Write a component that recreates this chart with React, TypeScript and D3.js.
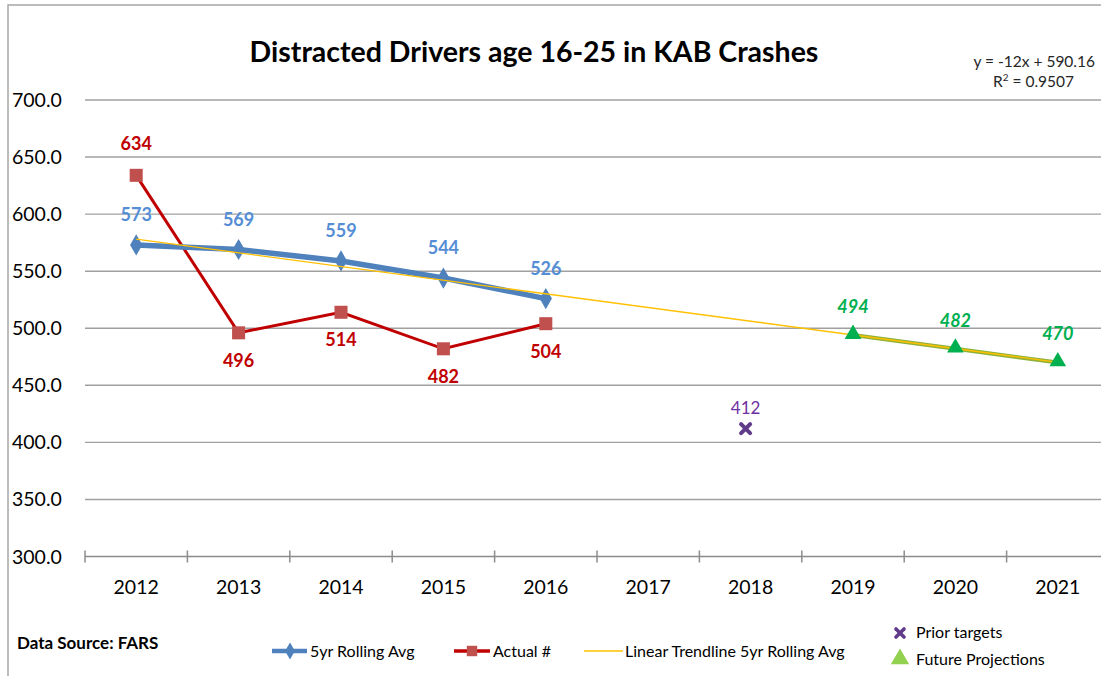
import React from "react";
import * as d3 from "d3";

const years = ["2012", "2013", "2014", "2015", "2016", "2017", "2018", "2019", "2020", "2021"];
const rollingYears = ["2012", "2013", "2014", "2015", "2016"];
const rollingAvg = [573, 569, 559, 544, 526];
const actualYears = ["2012", "2013", "2014", "2015", "2016"];
const actual = [634, 496, 514, 482, 504];
const actualLabelBelow = [false, true, true, true, true];
const priorYears = ["2018"];
const priorTargets = [412];
const futureYears = ["2019", "2020", "2021"];
const futureProj = [494, 482, 470];
const yTicks = [300, 350, 400, 450, 500, 550, 600, 650, 700];
const trendSlope = -12;
const trendIntercept = 590.16;
const trendR2 = 0.9507;

const W = 1101;
const H = 676;
const FONT = "Lato, 'Open Sans', sans-serif";

function ThickX({ cx, cy, r, color }: { cx: number; cy: number; r: number; color: string }) {
  return (
    <g stroke={color} strokeWidth={r * 0.9} strokeLinecap="round">
      <line x1={cx - r} y1={cy - r} x2={cx + r} y2={cy + r} />
      <line x1={cx - r} y1={cy + r} x2={cx + r} y2={cy - r} />
    </g>
  );
}

export default function App() {
  const x = d3.scaleBand<string>().domain(years).range([85, 1109]).padding(0);
  const cx = (yr: string) => (x(yr) as number) + x.bandwidth() / 2;
  const y = d3.scaleLinear().domain([300, 700]).range([556.5, 100]);

  const line = d3
    .line<[number, number]>()
    .x((d) => d[0])
    .y((d) => d[1]);

  const rollPts: [number, number][] = rollingYears.map((yr, i) => [cx(yr), y(rollingAvg[i])]);
  const actPts: [number, number][] = actualYears.map((yr, i) => [cx(yr), y(actual[i])]);
  const futPts: [number, number][] = futureYears.map((yr, i) => [cx(yr), y(futureProj[i])]);
  const trendPts: [number, number][] = [years[0], years[years.length - 1]].map((yr) => {
    const idx = years.indexOf(yr) + 1;
    return [cx(yr), y(trendSlope * idx + trendIntercept)];
  });

  const diamond = d3.symbol().type(d3.symbolDiamond).size(130)() as string;
  const square = d3.symbol().type(d3.symbolSquare).size(170)() as string;
  const triangle = d3.symbol().type(d3.symbolTriangle).size(120)() as string;

  const axisY = y(300);

  return (
    <svg width={W} height={H} style={{ position: "absolute", left: 0, top: 0, background: "#fff" }} fontFamily={FONT}>
      <rect x={8} y={5} width={W + 20} height={H + 20} fill="#fff" stroke="#a6a6a6" strokeWidth={1.5} />

      <text x={534} y={62} textAnchor="middle" fontSize={28.5} fontWeight="bold" fill="#000">
        Distracted Drivers age 16-25 in KAB Crashes
      </text>

      <text x={1095} y={67} textAnchor="end" fontSize={15.5} fill="#262626">
        y = -12x + 590.16
      </text>
      <text x={1074} y={87} textAnchor="end" fontSize={15.5} fill="#262626">
        R<tspan dy={-6} fontSize={10}>2</tspan>
        <tspan dy={6}> = {trendR2.toFixed(4)}</tspan>
      </text>

      {/* gridlines */}
      {yTicks.map((t) => (
        <g key={t}>
          {t !== 300 && (
            <line x1={85} x2={W} y1={y(t)} y2={y(t)} stroke="#a0a0a0" strokeWidth={1.4} />
          )}
          <text x={12} y={y(t) + 7} fontSize={19.5} fill="#000">
            {t.toFixed(1)}
          </text>
        </g>
      ))}

      {/* x axis */}
      <line x1={85} x2={W} y1={axisY} y2={axisY} stroke="#8c8c8c" strokeWidth={1.5} />
      {years.map((yr) => (
        <g key={yr}>
          <line x1={x(yr) as number} x2={x(yr) as number} y1={axisY - 6} y2={axisY + 6} stroke="#8c8c8c" strokeWidth={1.5} />
          <text x={cx(yr)} y={axisY + 37} textAnchor="middle" fontSize={19.5} fill="#000">
            {yr}
          </text>
        </g>
      ))}

      {/* future projections line */}
      <path d={line(futPts) as string} fill="none" stroke="#8fb13a" strokeWidth={4} />

      {/* actual */}
      <path d={line(actPts) as string} fill="none" stroke="#c00000" strokeWidth={3} />
      {actPts.map((p, i) => (
        <path key={i} d={square} transform={`translate(${p[0]},${p[1]})`} fill="#c0504d" />
      ))}

      {/* rolling avg */}
      <path d={line(rollPts) as string} fill="none" stroke="#4f81bd" strokeWidth={5.5} />
      {rollPts.map((p, i) => (
        <path key={i} d={diamond} transform={`translate(${p[0]},${p[1]})`} fill="#4f81bd" />
      ))}

      {/* trendline */}
      <path d={line(trendPts) as string} fill="none" stroke="#ffc000" strokeWidth={1.3} />

      {/* future triangles */}
      {futPts.map((p, i) => (
        <path key={i} d={triangle} transform={`translate(${p[0]},${p[1] - 1})`} fill="#00b050" />
      ))}

      {/* prior target */}
      {priorYears.map((yr, i) => (
        <g key={yr}>
          <ThickX cx={cx(yr) - 5} cy={y(priorTargets[i])} r={4.5} color="#5f3b8a" />
          <text x={cx(yr) - 5} y={y(priorTargets[i]) - 15} textAnchor="middle" fontSize={17} fill="#7030a0">
            {priorTargets[i]}
          </text>
        </g>
      ))}

      {/* labels */}
      {rollPts.map((p, i) => (
        <text key={i} x={p[0]} y={p[1] - 24} textAnchor="middle" fontSize={18} fontWeight="bold" fill="#558ed5">
          {rollingAvg[i]}
        </text>
      ))}
      {actPts.map((p, i) => (
        <text key={i} x={p[0]} y={actualLabelBelow[i] ? p[1] + 34 : p[1] - 25} textAnchor="middle" fontSize={18} fontWeight="bold" fill="#c00000">
          {actual[i]}
        </text>
      ))}
      {futPts.map((p, i) => (
        <text key={i} x={p[0]} y={p[1] - 22} textAnchor="middle" fontSize={18} fontWeight="bold" fontStyle="italic" fill="#00b050">
          {futureProj[i]}
        </text>
      ))}

      {/* data source */}
      <text x={17} y={649} fontSize={17} fontWeight="bold" fill="#000">
        Data Source: FARS
      </text>

      {/* legend */}
      <g fontSize={16} fill="#000">
        <line x1={272} x2={307} y1={651} y2={651} stroke="#4f81bd" strokeWidth={4.5} />
        <path d={diamond} transform="translate(290,651) scale(0.8)" fill="#4f81bd" />
        <text x={310} y={657}>5yr Rolling Avg</text>

        <line x1={454} x2={490} y1={651} y2={651} stroke="#c00000" strokeWidth={3.5} />
        <path d={square} transform="translate(472,651) scale(0.8)" fill="#c0504d" />
        <text x={493} y={657}>Actual #</text>

        <line x1={584} x2={623} y1={651} y2={651} stroke="#ffc000" strokeWidth={1.3} />
        <text x={625} y={657}>Linear Trendline 5yr Rolling Avg</text>

        <ThickX cx={900} cy={633} r={4} color="#5f3b8a" />
        <text x={916} y={638}>Prior targets</text>

        <path d={triangle} transform="translate(900,659) scale(1.1)" fill="#92d050" />
        <text x={916} y={665}>Future Projections</text>
      </g>
    </svg>
  );
}
